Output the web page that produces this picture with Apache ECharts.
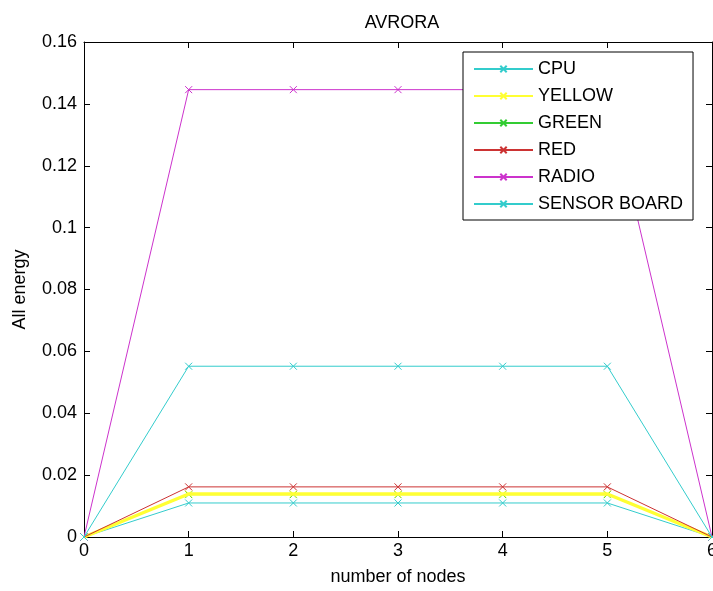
<!DOCTYPE html>
<html><head><meta charset="utf-8">
<script src="https://cdn.jsdelivr.net/npm/echarts@6/dist/echarts.min.js"></script>
<style>html,body{margin:0;padding:0;background:#fff}#c{width:713px;height:591px}</style>
</head><body><div id="c"></div>
<script>
const xCategories = [0, 1, 2, 3, 4, 5, 6];
const seriesNames = ['CPU', 'YELLOW', 'GREEN', 'RED', 'RADIO', 'SENSOR BOARD'];
const cpu = [0, 0.0110, 0.0110, 0.0110, 0.0110, 0.0110, 0];
const yellow = [0, 0.0139, 0.0139, 0.0139, 0.0139, 0.0139, 0];
const green = [0, 0.0137, 0.0137, 0.0137, 0.0137, 0.0137, 0];
const red = [0, 0.0162, 0.0162, 0.0162, 0.0162, 0.0162, 0];
const radio = [0, 0.1446, 0.1446, 0.1446, 0.1446, 0.1446, 0];
const sensorBoard = [0, 0.0552, 0.0552, 0.0552, 0.0552, 0.0552, 0];
const yTicks = [0, 0.02, 0.04, 0.06, 0.08, 0.1, 0.12, 0.14, 0.16];

const colors = ['#33cccc', '#ffff33', '#33cc33', '#cc3333', '#cc33cc', '#33cccc'];
const widths = [1, 3.5, 1, 1, 1, 1];
const dataArr = [cpu, yellow, green, red, radio, sensorBoard];
const xSym = 'path://M0,0L10,10M10,0L0,10';
const FONT = 'Liberation Sans, Arial, sans-serif';

const order = [0, 2, 1, 3, 4, 5];
const series = seriesNames.map((n, i) => ({
  name: n, type: 'line',
  data: dataArr[i].map((v, k) => [xCategories[k], v]),
  symbol: xSym, symbolSize: 7, showSymbol: true,
  z: 2 + order.indexOf(i),
  lineStyle: { color: colors[i], width: widths[i] },
  itemStyle: { color: 'rgba(0,0,0,0)', borderColor: colors[i], borderWidth: 1 },
  emphasis: { disabled: true },
  animation: false
}));

const chart = echarts.init(document.getElementById('c'), null, { renderer: 'canvas' });
const axisCommon = {
  axisLine: { show: true, onZero: false, lineStyle: { color: '#000', width: 1 } },
  axisTick: { show: true, inside: true, length: 6, lineStyle: { color: '#000' } },
  splitLine: { show: false }
};
chart.setOption({
  backgroundColor: '#fff',
  animation: false,
  title: { text: 'AVRORA', left: 397, top: 9, textAlign: 'center',
    textStyle: { fontFamily: FONT, fontSize: 18, fontWeight: 'normal', color: '#000' } },
  grid: { left: 84, right: 1, top: 42, bottom: 54, containLabel: false, outerBoundsMode: 'none' },
  legend: {
    orient: 'vertical', left: 463, top: 52, z: 20, zlevel: 0,
    backgroundColor: '#fff', borderColor: '#000', borderWidth: 1,
    padding: [8, 10, 7, 10], itemWidth: 59, itemHeight: 8, itemGap: 9,
    textStyle: { fontFamily: FONT, fontSize: 18, color: '#000' },
    data: seriesNames, selectedMode: false
  },
  xAxis: [
    Object.assign({ type: 'value', min: 0, max: 6, interval: 1, position: 'bottom',
      name: 'number of nodes', nameLocation: 'middle', nameGap: 31,
      nameTextStyle: { fontFamily: FONT, fontSize: 18, color: '#000' },
      axisLabel: { fontFamily: FONT, fontSize: 18, color: '#000', margin: 5 } }, axisCommon),
    Object.assign({ type: 'value', min: 0, max: 6, interval: 1, position: 'top',
      axisLabel: { show: false } }, axisCommon)
  ],
  yAxis: [
    Object.assign({ type: 'value', min: yTicks[0], max: yTicks[yTicks.length - 1], interval: 0.02,
      position: 'left', name: 'All energy', nameLocation: 'middle', nameGap: 55,
      nameTextStyle: { fontFamily: FONT, fontSize: 18, color: '#000' },
      axisLabel: { fontFamily: FONT, fontSize: 18, color: '#000', margin: 7,
        formatter: v => (Math.round(v * 100) / 100).toString() } }, axisCommon),
    Object.assign({ type: 'value', min: yTicks[0], max: yTicks[yTicks.length - 1], interval: 0.02,
      position: 'right', axisLabel: { show: false } }, axisCommon)
  ],
  series: series
});
</script></body></html>
